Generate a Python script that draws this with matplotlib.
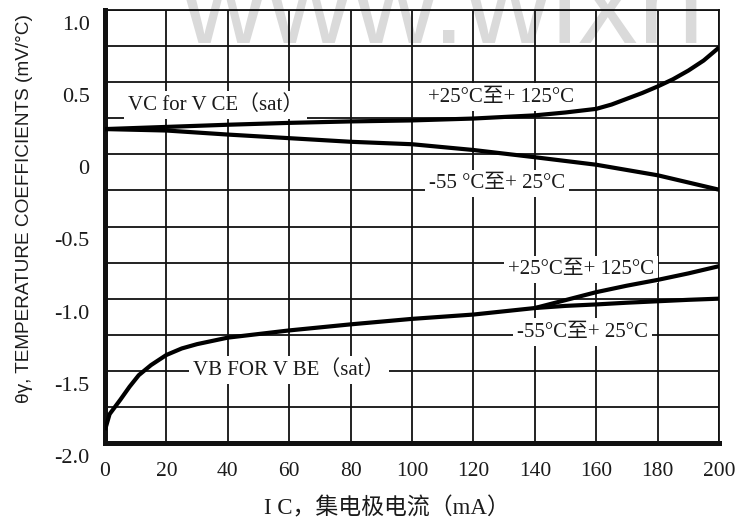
import matplotlib
matplotlib.use("Agg")
import matplotlib.pyplot as plt
from matplotlib.ticker import MultipleLocator
from matplotlib.transforms import ScaledTranslation

# Collector current (mA) and temperature coefficients (mV/°C)
vb_x = [0, 1.5, 5, 8, 11, 15, 20, 25, 30, 40, 60, 80, 100, 120, 140]
vb_y = [-1.91, -1.80, -1.70, -1.61, -1.53, -1.46, -1.39, -1.345, -1.315,
        -1.27, -1.22, -1.178, -1.14, -1.11, -1.065]

vb_hot_x = [140, 150, 160, 170, 180, 190, 200]
vb_hot_y = [-1.065, -1.01, -0.955, -0.91, -0.87, -0.825, -0.775]

vb_cold_x = [140, 150, 160, 170, 180, 190, 200]
vb_cold_y = [-1.065, -1.05, -1.04, -1.028, -1.018, -1.008, -1.0]

vc_hot_x = [0, 20, 40, 60, 80, 100, 120, 140, 150, 160, 165, 170, 175,
            180, 185, 190, 195, 200]
vc_hot_y = [0.175, 0.19, 0.205, 0.218, 0.228, 0.235, 0.248, 0.27, 0.29,
            0.315, 0.345, 0.385, 0.425, 0.47, 0.52, 0.58, 0.65, 0.74]

vc_cold_x = [0, 20, 40, 60, 80, 100, 120, 140, 160, 180, 200]
vc_cold_y = [0.175, 0.165, 0.137, 0.112, 0.087, 0.07, 0.03, -0.02,
             -0.072, -0.145, -0.245]

x_ticks = [0, 20, 40, 60, 80, 100, 120, 140, 160, 180, 200]
y_ticks = [-2.0, -1.5, -1.0, -0.5, 0.0, 0.5, 1.0]
y_tick_labels = ["-2.0", "-1.5", "-1.0", "-0.5", "0", "0.5", "1.0"]

serif = ["Liberation Serif", "Noto Sans CJK SC", "DejaVu Sans"]
ink = "#1b1b1b"

fig = plt.figure(figsize=(7.37, 5.21), dpi=100, facecolor="white")

# faint site watermark behind the plot
fig.text(180 / 737, 1 - 43 / 521, "www.wixn", family="Liberation Sans",
         fontsize=86, color="#dadada", ha="left", va="baseline", zorder=-5)

ax = fig.add_axes([105 / 737, 1 - 443 / 521, 614 / 737, 433 / 521])
ax.set_facecolor("none")
ax.set_xlim(0, 200)
ax.set_ylim(-2.0, 1.0)

ax.set_xticks(x_ticks)
ax.set_xticklabels([str(v) for v in x_ticks], family=serif, fontsize=15.5,
                   color=ink)
ax.set_yticks(y_ticks)
ax.set_yticklabels(y_tick_labels, family=serif, fontsize=16, color=ink,
                   va="top")
ax.yaxis.set_minor_locator(MultipleLocator(0.25))
ax.tick_params(axis="both", which="both", length=0)
ax.tick_params(axis="x", pad=14)
ax.tick_params(axis="y", pad=11)

# value labels sit a little below their grid lines
shift = ScaledTranslation(0, -6 / 100, fig.dpi_scale_trans)
for lab in ax.get_yticklabels():
    lab.set_transform(lab.get_transform() + shift)

ax.set_axisbelow(True)
ax.grid(True, which="both", color="#111111", linewidth=1.3)
ax.xaxis.grid(True, which="minor", linewidth=0)

for side in ("left", "bottom"):
    ax.spines[side].set_linewidth(3.6)
for side in ("top", "right"):
    ax.spines[side].set_linewidth(1.3)
for sp in ax.spines.values():
    sp.set_color("#111111")

line_kw = dict(color="black", linewidth=3.0, solid_capstyle="butt",
               solid_joinstyle="round", zorder=4)
ax.plot(vc_hot_x, vc_hot_y, **line_kw)
ax.plot(vc_cold_x, vc_cold_y, **line_kw)
ax.plot(vb_x, vb_y, **line_kw)
ax.plot(vb_hot_x, vb_hot_y, **line_kw)
ax.plot(vb_cold_x, vb_cold_y, **line_kw)

box = dict(facecolor="white", edgecolor="none", pad=3)
note_kw = dict(family=serif, fontsize=15, color=ink, ha="left", va="center",
               bbox=box, zorder=3)
ax.text(7.5, 0.342, "VC for V CE（sat）", **note_kw)
ax.text(105.2, 0.397, "+25°C至+ 125°C", **note_kw)
ax.text(105.5, -0.20, "-55 °C至+ 25°C", **note_kw)
ax.text(28.7, -1.494, "VB FOR V BE（sat）", **note_kw)
ax.text(131.3, -0.80, "+25°C至+ 125°C", **note_kw)
ax.text(134.2, -1.231, "-55°C至+ 25°C", **note_kw)

fig.text(387 / 737, 1 - 508 / 521, "I C，集电极电流（mA）", family=serif,
         fontsize=16.5, color=ink, ha="center", va="center")
fig.text(25 / 737, 1 - 209 / 521, "θγ, TEMPERATURE COEFFICIENTS (mV/°C)",
         family=["Liberation Sans", "DejaVu Sans"], fontsize=13.7,
         color=ink, rotation=90, ha="center", va="center")

fig.savefig("out.png", dpi=100, facecolor="white")
